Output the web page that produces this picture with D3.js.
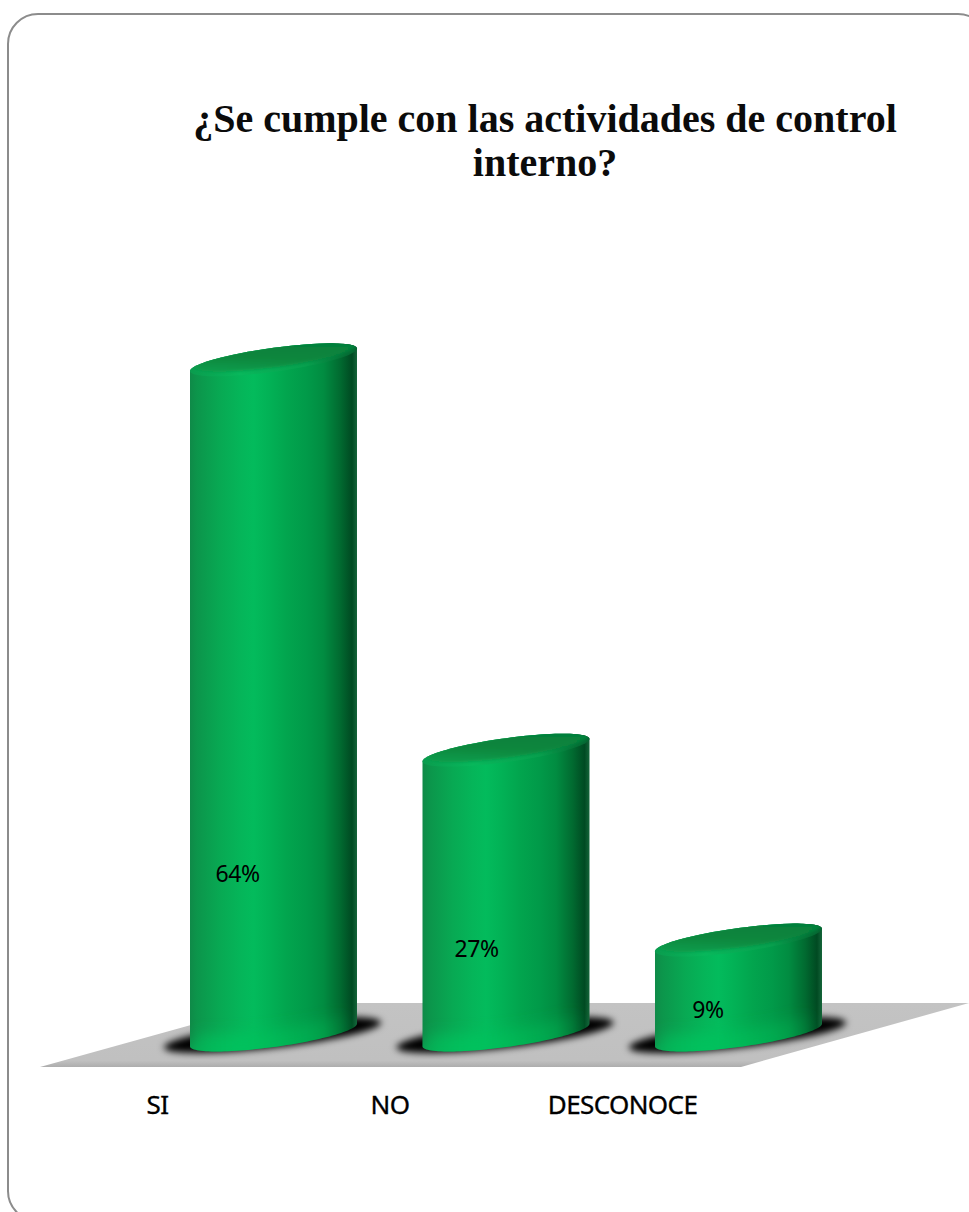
<!DOCTYPE html>
<html lang="es">
<head>
<meta charset="utf-8">
<title>Actividades de control interno</title>
<script src="https://cdn.jsdelivr.net/npm/d3@7/dist/d3.min.js"></script>
<style>
  html, body { margin: 0; padding: 0; background: #fff; }
  svg { display: block; }
</style>
</head>
<body>
<svg id="chart" width="969" height="1212"></svg>
<script>
// Survey answers
const categories = ["SI", "NO", "DESCONOCE"];
const percentages = [64, 27, 9];
const titleLines = ["¿Se cumple con las actividades de control", "interno?"];

const svg = d3.select("#chart");
const defs = svg.append("defs");

// Scales: columns stand on a tilted floor whose centre line is y(0)
const x = d3.scaleBand().domain(categories).range([190, 822]).paddingInner(0.2817).paddingOuter(0);
const y = d3.scaleLinear().domain([0, 100]).range([1035, 1035 - 1055]);

const rx = x.bandwidth() / 2;
const tilt = -0.135;     // shear of the column ellipses
const ry = 12;           // half depth of the column ellipses

// Point on a sheared ellipse; sin(t) > 0 is the front edge
const onEllipse = (cx, cy, a, b, sl) => t => [
  cx + a * Math.cos(t),
  cy + sl * a * Math.cos(t) + b * Math.sin(t)
];
const line = d3.line();
const arcPoints = (fn, from, to, n = 60) => d3.range(n + 1).map(i => fn(from + (to - from) * i / n));
const closedEllipse = fn => line(arcPoints(fn, 0, 2 * Math.PI, 80)) + "Z";

// Gradients and filters
function gradient(id, stops, attrs = {}) {
  const g = defs.append("linearGradient").attr("id", id)
    .attr("x1", 0).attr("x2", 1).attr("y1", 0).attr("y2", 0);
  Object.entries(attrs).forEach(([k, v]) => g.attr(k, v));
  stops.forEach(([o, c, op]) => {
    const s = g.append("stop").attr("offset", o).attr("stop-color", c);
    if (op !== undefined) s.attr("stop-opacity", op);
  });
}
gradient("body", [
  [0, "#0f8a48"], [0.04, "#0c954b"], [0.18, "#08a953"], [0.3, "#05b559"], [0.38, "#03bb5c"],
  [0.47, "#02b256"], [0.58, "#02a54e"], [0.7, "#019a49"], [0.8, "#018c41"], [0.9, "#016a30"],
  [0.97, "#004a22"], [1, "#15653a"]
]);
gradient("face", [[0, "#067f3a"], [0.55, "#07863d"], [1, "#0a9a4a"]], { x1: 0.6, x2: 0.4, y1: 0, y2: 1 });
gradient("rim", [[0, "#0a9c4e"], [0.3, "#08b85c"], [0.7, "#07a04e"], [0.93, "#046f35"], [1, "#056431"]]);
gradient("glow", [[0, "#00c45e", 0.5], [0.3, "#00c45e", 0.85], [0.75, "#00b754", 0.5], [1, "#00b754", 0]]);
gradient("floor", [[0, "#c3c3c3"], [0.9, "#c0c0c0"], [1, "#adadad"]], { x1: 0, x2: 0, y1: 0, y2: 1 });

const blur = (id, sd) => defs.append("filter").attr("id", id)
  .attr("x", "-20%").attr("y", "-80%").attr("width", "140%").attr("height", "260%")
  .append("feGaussianBlur").attr("stdDeviation", sd);
blur("soft", 3.8);
blur("softer", 7);
blur("edge", 1.8);

// Outer rounded frame, running past the right and bottom of the page
svg.append("rect")
  .attr("x", 8).attr("y", 14)
  .attr("width", 980).attr("height", 1207)
  .attr("rx", 30).attr("ry", 30)
  .attr("fill", "#fff").attr("stroke", "#8c8c8c").attr("stroke-width", 2);

// Title
svg.append("text")
  .attr("text-anchor", "middle")
  .attr("font-family", "'Liberation Serif', serif")
  .attr("font-weight", 700)
  .attr("font-size", 40)
  .attr("fill", "#0b0b0b")
  .selectAll("tspan").data(titleLines).join("tspan")
  .attr("x", 545)
  .attr("y", (d, i) => 132 + i * 44)
  .text(d => d);

// Floor
const floorBack = 1003, floorFront = 1067;
svg.append("path")
  .attr("d", line([[40, floorFront], [741, floorFront], [969, floorBack], [270, floorBack]]) + "Z")
  .attr("fill", "url(#floor)");

// Category labels sit left of their columns, following the floor's perspective
const labelShift = -116;
const axisG = svg.append("g")
  .attr("transform", `translate(${labelShift},1095)`)
  .call(d3.axisBottom(x).tickSize(0).tickPadding(0));
axisG.select(".domain").remove();
axisG.selectAll("text")
  .attr("font-family", "'Noto Sans', sans-serif")
  .attr("font-size", 26)
  .attr("letter-spacing", -0.6)
  .attr("fill", "#000")
  .attr("stroke", "#000")
  .attr("stroke-width", 0.35)
  .attr("dy", "0.32em")
  .attr("y", 11);

// Columns
const columns = svg.selectAll("g.column")
  .data(categories.map((c, i) => ({ c, v: percentages[i], i })))
  .join("g").attr("class", "column");

columns.each(function (d) {
  const g = d3.select(this);
  const cx = x(d.c) + rx;
  const baseY = y(0), topY = y(d.v);
  const base = onEllipse(cx, baseY, rx, ry, tilt);
  const top = onEllipse(cx, topY, rx, ry, tilt);

  // Contact shadow on the floor
  g.append("path")
    .attr("d", closedEllipse(onEllipse(cx - 1, baseY, rx + 25, ry + 1, -0.114)))
    .attr("fill", "#000")
    .attr("filter", "url(#soft)");

  // Cylinder wall
  const outline = line([...arcPoints(base, Math.PI, 0), ...arcPoints(top, 0, -Math.PI)]) + "Z";
  defs.append("clipPath").attr("id", `wall-${d.i}`).append("path").attr("d", outline);
  g.append("path").attr("d", outline).attr("fill", "url(#body)");

  // Brighter band following the foot of the wall
  g.append("g").attr("clip-path", `url(#wall-${d.i})`)
    .append("path")
    .attr("d", line(arcPoints(base, Math.PI, 0)))
    .attr("fill", "none")
    .attr("stroke", "url(#glow)")
    .attr("stroke-width", 34)
    .attr("filter", "url(#softer)");

  // Top cap: a lighter rim fading into a darker inner face
  defs.append("clipPath").attr("id", `cap-${d.i}`).append("path").attr("d", closedEllipse(top));
  g.append("path").attr("d", closedEllipse(top)).attr("fill", "url(#rim)");
  g.append("g").attr("clip-path", `url(#cap-${d.i})`)
    .append("path")
    .attr("d", closedEllipse(onEllipse(cx + 2, topY - 3.5, rx - 3, ry - 1, tilt)))
    .attr("fill", "url(#face)")
    .attr("filter", "url(#edge)");
});

// Percentage labels: inside each column, low on its lit side
const labelDx = [-36, -29.5, -30.5];
const labelDy = [161, 86, 25];
svg.selectAll("text.value")
  .data(percentages)
  .join("text")
  .attr("class", "value")
  .attr("x", (d, i) => x(categories[i]) + rx + labelDx[i])
  .attr("y", (d, i) => y(0) - labelDy[i])
  .attr("dy", "0.35em")
  .attr("text-anchor", "middle")
  .attr("font-family", "'Noto Sans', sans-serif")
  .attr("font-size", 23)
  .attr("letter-spacing", -0.4)
  .attr("fill", "#000")
  .text(d => d3.format(".0%")(d / 100));
</script>
</body>
</html>
